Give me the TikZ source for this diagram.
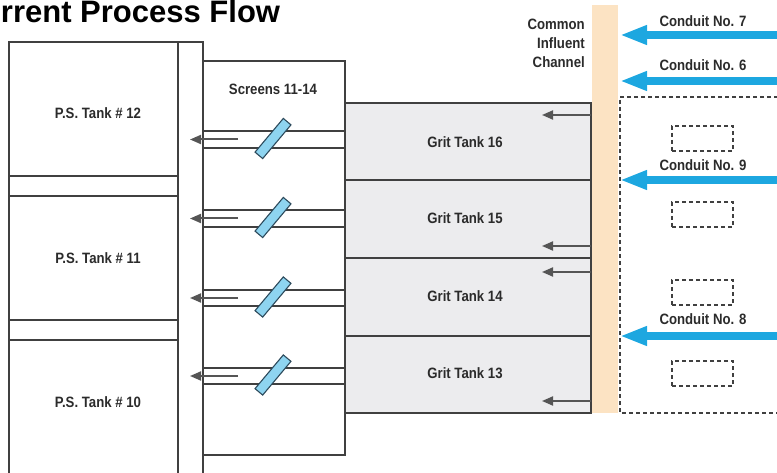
\documentclass[tikz,border=0pt]{standalone}
\usepackage{fontspec}
\setmainfont{Liberation Sans}
\newfontfamily\narrowfont[FakeStretch=0.88]{Liberation Sans}
\usetikzlibrary{arrows.meta}
\definecolor{wallgray}{HTML}{404040}
\definecolor{txtgray}{HTML}{2B2B2B}
\definecolor{gritfill}{HTML}{ECECEE}
\definecolor{chanfill}{HTML}{FCE3C3}
\definecolor{screenfill}{HTML}{8ED4F0}
\definecolor{screenline}{HTML}{2C4A5C}
\definecolor{conduitblue}{HTML}{1DA7E0}
\definecolor{arrowgray}{HTML}{555555}
\tikzset{
  wall/.style={draw=wallgray, line width=1.6pt},
  gritbox/.style={draw=wallgray, line width=1.6pt, fill=gritfill, minimum width=246pt, inner sep=0pt},
  lbl/.style={text=txtgray, font=\narrowfont\bfseries\fontsize{15}{19}\selectfont, inner sep=0pt},
  screenbar/.style={draw=screenline, line width=1.1pt, fill=screenfill, minimum width=44pt, minimum height=10pt, inner sep=0pt, rotate=50},
  flowarrow/.style={draw=arrowgray, line width=2pt, -{Triangle[length=11pt,width=9pt]}},
  conduit/.style={draw=conduitblue, line width=7.5pt, -{Triangle[length=27pt,width=18pt]}},
  dashline/.style={draw=wallgray, line width=1.5pt, dash pattern=on 4pt off 3pt},
  smallbox/.style={draw=wallgray, line width=1.5pt, dash pattern=on 4pt off 3pt, minimum width=61pt, minimum height=25pt, inner sep=0pt}
}
\begin{document}
\begin{tikzpicture}[x=1pt,y=-1pt]
\useasboundingbox (0,0) rectangle (777,473);

% title
\node[anchor=base west, inner sep=0pt, font=\bfseries\fontsize{31}{31}\selectfont] (title) at (0.8,23) {rrent Process Flow};

% grit tanks
\node[gritbox, minimum height=77pt] (g16) at (468,141.5) {};
\node[gritbox, minimum height=78pt] (g15) at (468,219) {};
\node[gritbox, minimum height=78pt] (g14) at (468,297) {};
\node[gritbox, minimum height=77pt] (g13) at (468,374.5) {};
\node[lbl] (g16t) at (465,142) {Grit Tank 16};
\node[lbl] (g15t) at (465,218) {Grit Tank 15};
\node[lbl] (g14t) at (465,296) {Grit Tank 14};
\node[lbl] (g13t) at (465,373) {Grit Tank 13};

% primary settling tanks
\draw[wall] (9,480) -- (9,42) -- (203,42) -- (203,480);
\draw[wall] (178,42) -- (178,480);
\draw[wall] (9,176) -- (178,176);
\draw[wall] (9,196) -- (178,196);
\draw[wall] (9,320) -- (178,320);
\draw[wall] (9,340) -- (178,340);
\node[lbl] (ps12) at (98,113) {P.S. Tank \# 12};
\node[lbl] (ps11) at (98,258) {P.S. Tank \# 11};
\node[lbl] (ps10) at (98,402) {P.S. Tank \# 10};

% screens box
\draw[wall] (203,61) -- (345,61) -- (345,455) -- (203,455);
\node[lbl] (scrt) at (273,89) {Screens 11-14};
\foreach \ya/\yb in {131/148, 210/227, 290/306, 368/384} {
  \draw[wall] (203,\ya) -- (345,\ya);
  \draw[wall] (203,\yb) -- (345,\yb);
}
\foreach \i/\y in {1/139.5, 2/218.5, 3/298, 4/376} {
  \coordinate (sa\i) at (238,\y);
  \coordinate (sb\i) at (190,\y);
  \draw[flowarrow] (sa\i) -- (sb\i);
  \node[screenbar] (scr\i) at (273,\y-1) {};
}

% common influent channel
\fill[chanfill] (592,5) rectangle (618,413);
\node[lbl, align=right, anchor=north east] (cic) at (585,19) {Common\\Influent\\Channel};

% arrows out of channel into grit tanks
\foreach \i/\y in {1/115, 2/246, 3/272, 4/401} {
  \coordinate (ga\i) at (591,\y);
  \coordinate (gb\i) at (542,\y);
  \draw[flowarrow] (ga\i) -- (gb\i);
}

% dashed conduit area
\draw[dashline] (785,97) -- (620,97) -- (620,413) -- (785,413);
\node[smallbox] (b1) at (702.5,138.5) {};
\node[smallbox] (b2) at (702.5,214.5) {};
\node[smallbox] (b3) at (702.5,292.5) {};
\node[smallbox] (b4) at (702.5,373.5) {};

% conduits
\foreach \n/\y/\ly in {7/35/21, 6/81/65, 9/180/165, 8/336/319} {
  \coordinate (cs\n) at (800,\y);
  \coordinate (ce\n) at (620,\y);
  \draw[conduit] (cs\n) -- (ce\n);
  \node[lbl] (cl\n) at (703,\ly) {Conduit No. \n};
}
\end{tikzpicture}
\end{document}
